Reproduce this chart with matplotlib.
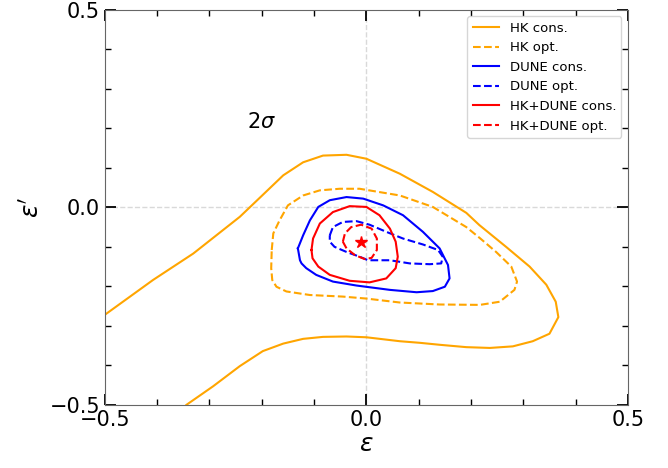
import numpy as np
import matplotlib
matplotlib.use('Agg')
import matplotlib.pyplot as plt
from matplotlib.ticker import MultipleLocator

# 2 sigma contours (epsilon, epsilon')
hk_cons_x = [-0.500, -0.408, -0.331, -0.242, -0.204, -0.159, -0.121, -0.083, -0.038, 0.000,
             0.064, 0.127, 0.191, 0.216, 0.267, 0.312, 0.344, 0.362, 0.367, 0.350,
             0.318, 0.280, 0.236, 0.191, 0.140, 0.102, 0.064, 0.000, -0.038, -0.083,
             -0.121, -0.159, -0.198, -0.242, -0.293, -0.344]
hk_cons_y = [-0.272, -0.184, -0.117, -0.024, 0.024, 0.081, 0.114, 0.131, 0.133, 0.123,
             0.085, 0.039, -0.014, -0.045, -0.100, -0.150, -0.196, -0.239, -0.278, -0.320,
             -0.339, -0.352, -0.356, -0.354, -0.348, -0.343, -0.339, -0.329, -0.327, -0.328,
             -0.333, -0.345, -0.364, -0.402, -0.453, -0.500]

hk_opt_x = [-0.181, -0.178, -0.166, -0.150, -0.121, -0.089, -0.051, -0.013, 0.064, 0.127,
            0.191, 0.217, 0.248, 0.277, 0.288, 0.283, 0.255, 0.217, 0.140, 0.064,
            0.000, -0.045, -0.108, -0.153, -0.172, -0.180, -0.182, -0.181]
hk_opt_y = [-0.108, -0.066, -0.033, 0.005, 0.030, 0.043, 0.047, 0.047, 0.030, 0.001,
            -0.050, -0.078, -0.113, -0.150, -0.188, -0.209, -0.239, -0.247, -0.246, -0.241,
            -0.231, -0.226, -0.222, -0.213, -0.201, -0.184, -0.154, -0.108]

dune_cons_x = [-0.131, -0.121, -0.108, -0.092, -0.070, -0.038, -0.006, 0.032, 0.070, 0.108,
               0.140, 0.156, 0.159, 0.150, 0.127, 0.096, 0.045, -0.019, -0.064, -0.096,
               -0.115, -0.124, -0.127, -0.131]
dune_cons_y = [-0.104, -0.071, -0.033, 0.001, 0.018, 0.026, 0.022, 0.005, -0.020, -0.062,
               -0.104, -0.146, -0.180, -0.201, -0.212, -0.215, -0.209, -0.198, -0.188, -0.171,
               -0.154, -0.142, -0.134, -0.104]

dune_opt_x = [-0.070, -0.064, -0.045, -0.019, 0.006, 0.038, 0.070, 0.108, 0.137, 0.146,
              0.143, 0.121, 0.083, 0.045, 0.019, 0.003, -0.013, -0.038, -0.061, -0.070,
              -0.070]
dune_opt_y = [-0.071, -0.050, -0.037, -0.035, -0.044, -0.062, -0.079, -0.094, -0.108, -0.125,
              -0.142, -0.144, -0.142, -0.134, -0.134, -0.134, -0.125, -0.113, -0.100, -0.087,
              -0.071]

comb_cons_x = [-0.105, -0.102, -0.089, -0.064, -0.032, 0.000, 0.025, 0.045, 0.056, 0.060,
               0.056, 0.038, 0.006, -0.032, -0.070, -0.092, -0.103, -0.105]
comb_cons_y = [-0.108, -0.079, -0.041, -0.012, 0.003, 0.001, -0.020, -0.054, -0.087, -0.125,
               -0.154, -0.180, -0.190, -0.186, -0.171, -0.150, -0.129, -0.108]

comb_opt_x = [-0.045, -0.041, -0.029, -0.010, 0.010, 0.020, 0.020, 0.010, -0.003, -0.022,
              -0.038, -0.045]
comb_opt_y = [-0.087, -0.066, -0.050, -0.044, -0.054, -0.079, -0.108, -0.128, -0.131, -0.121,
              -0.104, -0.087]

best_fit = (-0.011, -0.089)

fig = plt.figure(figsize=(6.68, 4.68), dpi=100)
ax = fig.add_axes([0.157, 0.135, 0.783, 0.844])

ax.axhline(0, color='0.85', ls='--', lw=1, zorder=0)
ax.axvline(0, color='0.85', ls='--', lw=1, zorder=0)

ax.plot(hk_cons_x, hk_cons_y, color='orange', lw=1.5, label='HK cons.')
ax.plot(hk_opt_x, hk_opt_y, color='orange', lw=1.5, ls='--', label='HK opt.')
ax.plot(dune_cons_x, dune_cons_y, color='blue', lw=1.5, label='DUNE cons.')
ax.plot(dune_opt_x, dune_opt_y, color='blue', lw=1.5, ls='--', label='DUNE opt.')
ax.plot(comb_cons_x, comb_cons_y, color='red', lw=1.5, label='HK+DUNE cons.')
ax.plot(comb_opt_x, comb_opt_y, color='red', lw=1.5, ls='--', label='HK+DUNE opt.')
ax.plot(*best_fit, marker='*', color='red', ms=9, ls='none')

ax.text(-0.2, 0.215, r'$2\sigma$', fontsize=15, ha='center', va='center')

ax.set_xlim(-0.5, 0.5)
ax.set_ylim(-0.5, 0.5)
ax.xaxis.set_major_locator(MultipleLocator(0.5))
ax.yaxis.set_major_locator(MultipleLocator(0.5))
ax.xaxis.set_minor_locator(MultipleLocator(0.1))
ax.yaxis.set_minor_locator(MultipleLocator(0.1))
ax.tick_params(which='both', direction='in', top=True, right=True, labelsize=15)
ax.tick_params(which='major', length=8, width=1.3)
ax.tick_params(which='minor', length=4, width=1)
for s in ax.spines.values():
    s.set_color('0.4')

ax.set_xlabel(r'$\varepsilon$', fontsize=18, labelpad=2)
ax.set_ylabel(r"$\varepsilon'$", fontsize=18)

ax.legend(loc='upper right', fontsize=9.5, bbox_to_anchor=(1.0, 1.0))

fig.savefig('out.png', dpi=100)
